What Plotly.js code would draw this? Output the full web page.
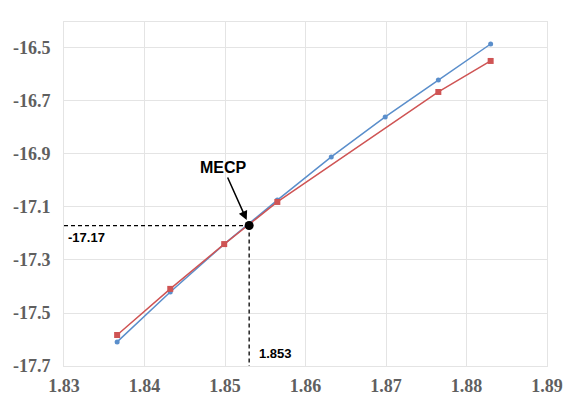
<!DOCTYPE html>
<html><head><meta charset="utf-8">
<script src="https://cdn.plot.ly/plotly-3.0.1.min.js"></script>
<style>html,body{margin:0;padding:0;background:#fff;}#chart{width:563px;height:397px;}</style>
</head><body><div id="chart"></div>
<script>
const blueX = [1.8366, 1.8432, 1.8499, 1.8565, 1.8632, 1.8699, 1.8765, 1.8830];
const blueY = [-17.609, -17.421, -17.240, -17.074, -16.911, -16.760, -16.621, -16.485];
const redX = [1.8366, 1.8432, 1.8499, 1.8565, 1.8765, 1.8830];
const redY = [-17.583, -17.409, -17.240, -17.081, -16.666, -16.549];
const mecpX = 1.853;
const mecpY = -17.17;
const xTicks = [1.83, 1.84, 1.85, 1.86, 1.87, 1.88, 1.89];
const yTicks = [-16.5, -16.7, -16.9, -17.1, -17.3, -17.5, -17.7];

const tickFont = {family: '"Liberation Serif", "Times New Roman", serif', size: 18, color: '#5f5f5f', weight: 'bold'};
const grid = '#e4e4e4';

const data = [
  {x: blueX, y: blueY, mode: 'lines+markers', line: {color: '#5a8ecb', width: 1.5},
   marker: {symbol: 'circle', size: 5, color: '#5a8ecb'}, hoverinfo: 'skip'},
  {x: redX, y: redY, mode: 'lines+markers', line: {color: '#cf5454', width: 1.5},
   marker: {symbol: 'square', size: 6, color: '#cf5454'}, hoverinfo: 'skip'},
  {x: [1.83, mecpX], y: [mecpY, mecpY], mode: 'lines', line: {color: '#000', width: 1.3, dash: '4px,3px'}, hoverinfo: 'skip'},
  {x: [mecpX, mecpX], y: [mecpY, -17.7], mode: 'lines', line: {color: '#000', width: 1.3, dash: '4px,3px'}, hoverinfo: 'skip'},
  {x: [mecpX], y: [mecpY], mode: 'markers', marker: {color: '#000', size: 9}, hoverinfo: 'skip'}
];

const layout = {
  width: 563, height: 397,
  margin: {l: 64, r: 16, t: 22, b: 31},
  paper_bgcolor: '#fff', plot_bgcolor: '#fff',
  showlegend: false,
  xaxis: {range: [1.83, 1.89], tickvals: xTicks, ticktext: xTicks.map(v => v.toFixed(2)),
    showgrid: true, gridcolor: grid, gridwidth: 1, zeroline: false,
    showline: true, linecolor: grid, mirror: true, ticks: '', tickfont: tickFont, ticklabelstandoff: 3},
  yaxis: {range: [-17.7, -16.402], tickvals: yTicks, ticktext: yTicks.map(v => v.toFixed(1)),
    showgrid: true, gridcolor: grid, gridwidth: 1, zeroline: false,
    showline: true, linecolor: grid, mirror: true, ticks: '', tickfont: tickFont, ticklabelstandoff: 9},
  annotations: [
    {x: mecpX, y: mecpY, xref: 'x', yref: 'y', text: '<b>MECP</b>', showarrow: true,
     ax: -26, ay: -58, arrowhead: 2, arrowsize: 1.2, arrowwidth: 1.5, arrowcolor: '#000', standoff: 6,
     font: {family: 'Arial, "Liberation Sans", sans-serif', size: 16, color: '#000'}},
    {x: 1.83, y: mecpY, xref: 'x', yref: 'y', text: '<b>-17.17</b>', showarrow: false,
     xanchor: 'left', yanchor: 'top', xshift: 2, yshift: -2,
     font: {family: 'Arial, "Liberation Sans", sans-serif', size: 13, color: '#000'}},
    {x: mecpX, y: -17.7, xref: 'x', yref: 'y', text: '<b>1.853</b>', showarrow: false,
     xanchor: 'left', yanchor: 'bottom', xshift: 8, yshift: 3,
     font: {family: 'Arial, "Liberation Sans", sans-serif', size: 13, color: '#000'}}
  ]
};
Plotly.newPlot('chart', data, layout, {displayModeBar: false, staticPlot: true});
</script></body></html>
